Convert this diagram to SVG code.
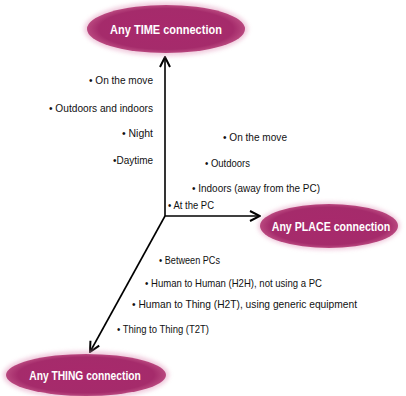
<svg xmlns="http://www.w3.org/2000/svg" width="406" height="396" viewBox="0 0 406 396">
<defs>
<radialGradient id="g" cx="50%" cy="50%" r="50%">
<stop offset="0%" stop-color="#a8296c"/>
<stop offset="85%" stop-color="#a52b6b"/>
<stop offset="100%" stop-color="#b9487f"/>
</radialGradient>
<filter id="glow" x="-20%" y="-30%" width="140%" height="160%">
<feGaussianBlur stdDeviation="2"/>
</filter>
<marker id="arr" viewBox="0 0 12 12" refX="11" refY="6" markerWidth="12" markerHeight="12" markerUnits="userSpaceOnUse" orient="auto">
<path d="M1,1 L11,6 L1,11" fill="none" stroke="#000" stroke-width="2"/>
</marker>
<style>
.halo{fill:#e6a7c6;opacity:0.6;filter:url(#glow)}
.el{fill:url(#g)}
.nt{font-family:"Liberation Sans",Arial,sans-serif;font-weight:bold;font-size:12.5px;fill:#fff;text-anchor:middle}
.lb{font-family:"Liberation Sans",Arial,sans-serif;font-size:11px;fill:#111}
.r{text-anchor:end}
.ax{stroke:#000;stroke-width:1.6;fill:none;marker-end:url(#arr)}
</style>
</defs>
<rect width="406" height="396" fill="#fff"/>
<g id="connectors">
<line class="ax" x1="165" y1="216" x2="165" y2="57"/>
<line class="ax" x1="165" y1="216" x2="260" y2="216"/>
<line class="ax" x1="165" y1="216" x2="90" y2="352"/>
</g>
<g id="time">
<ellipse class="halo" cx="166" cy="29" rx="82" ry="27"/>
<ellipse class="el" cx="166" cy="29" rx="79" ry="24"/>
<text class="nt" transform="translate(166,33.5) scale(0.88,1)" x="0" y="0">Any TIME connection</text>
</g>
<g id="place">
<ellipse class="halo" cx="329" cy="226" rx="71" ry="24"/>
<ellipse class="el" cx="329" cy="226" rx="69" ry="22"/>
<text class="nt" transform="translate(331,230.5) scale(0.85,1)" x="0" y="0">Any PLACE connection</text>
</g>
<g id="thing">
<ellipse class="halo" cx="86" cy="375" rx="83" ry="24"/>
<ellipse class="el" cx="86" cy="375" rx="80" ry="21"/>
<text class="nt" transform="translate(85,379.5) scale(0.82,1)" x="0" y="0">Any THING connection</text>
</g>
<g id="time-labels">
<text class="lb r" x="153" y="84" textLength="64" lengthAdjust="spacingAndGlyphs">• On the move</text>
<text class="lb r" x="153" y="112" textLength="104" lengthAdjust="spacingAndGlyphs">• Outdoors and indoors</text>
<text class="lb r" x="153" y="137" textLength="31" lengthAdjust="spacingAndGlyphs">• Night</text>
<text class="lb r" x="153" y="164" textLength="40" lengthAdjust="spacingAndGlyphs">•Daytime</text>
</g>
<g id="place-labels">
<text class="lb" x="223" y="141" textLength="64" lengthAdjust="spacingAndGlyphs">• On the move</text>
<text class="lb" x="205" y="167" textLength="45" lengthAdjust="spacingAndGlyphs">• Outdoors</text>
<text class="lb" x="192" y="192" textLength="128" lengthAdjust="spacingAndGlyphs">• Indoors (away from the PC)</text>
<text class="lb" x="168" y="209" textLength="46" lengthAdjust="spacingAndGlyphs">• At the PC</text>
</g>
<g id="thing-labels">
<text class="lb" x="159" y="264" textLength="61" lengthAdjust="spacingAndGlyphs">• Between PCs</text>
<text class="lb" x="145" y="287" textLength="177" lengthAdjust="spacingAndGlyphs">• Human to Human (H2H), not using a PC</text>
<text class="lb" x="132" y="308" textLength="225" lengthAdjust="spacingAndGlyphs">• Human to Thing (H2T), using generic equipment</text>
<text class="lb" x="117" y="333" textLength="92" lengthAdjust="spacingAndGlyphs">• Thing to Thing (T2T)</text>
</g>
</svg>
